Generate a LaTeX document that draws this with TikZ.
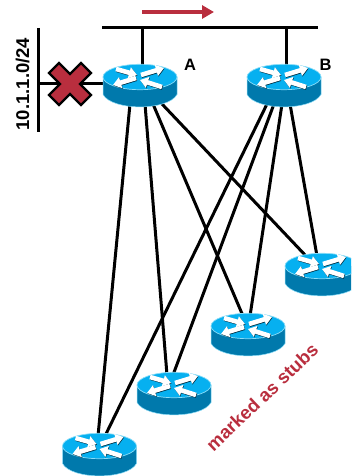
\documentclass[tikz,border=0pt]{standalone}
\usepackage{fontspec}
\setmainfont{Liberation Sans}
\usetikzlibrary{arrows.meta}
\definecolor{rtop}{HTML}{06B0F0}
\definecolor{rside}{HTML}{0079AC}
\definecolor{redge}{HTML}{8ADDF8}
\definecolor{redc}{HTML}{B92E3E}
\tikzset{
  x=1pt,y=-1pt,
  routerbox/.style={minimum width=74pt,minimum height=43pt,inner sep=0pt,outer sep=0pt},
  link/.style={line width=3pt,black},
  barline/.style={line width=3pt,black,line cap=butt},
  lbl/.style={font=\bfseries\fontsize{16.5}{17}\selectfont,inner sep=0pt},
  redlbl/.style={font=\bfseries\fontsize{18.5}{19}\selectfont,text=redc,inner sep=0pt},
  routerarrow/.style={line width=4.6pt,-{Triangle[length=8pt,width=11pt]}},
  router/.pic={
    \fill[rside,draw=redge,line width=.5pt] (-37,-8.5) -- (-37,9)
      .. controls (-28,25.5) and (28,25.5) .. (37,9) -- (37,-8.5) -- cycle;
    \fill[rtop,draw=redge,line width=.7pt] (0,-8.5) ellipse [x radius=37,y radius=12.7];
    \foreach \tx/\ty/\hx/\hy in {-24/-16.5/-3/-10.5, 1/-10.5/24/-17.5, -4/-7.5/-27/-0.5, 22/1.5/0/-5.5}{
      \draw[routerarrow,black!60!rside] (\tx+.5,\ty+.7) -- (\hx+.5,\hy+.7);
      \draw[routerarrow,white] (\tx,\ty) -- (\hx,\hy);
    }
  }
}
\begin{document}
\begin{tikzpicture}
\useasboundingbox (0,0) rectangle (351,476);
\clip (0,0) rectangle (351,476);
\node[routerbox] (a) at (140,85.5) {};
\node[routerbox] (b) at (284,85.5) {};
\node[routerbox] (s1) at (322,274.5) {};
\node[routerbox] (s2) at (248,334.5) {};
\node[routerbox] (s3) at (174,393.5) {};
\node[routerbox] (s4) at (99.5,454.5) {};
\coordinate (busL) at (102,28);
\coordinate (busR) at (318,28);
\coordinate (segT) at (38,28);
\coordinate (segB) at (38,132);
\coordinate (segM) at (38,84);
\coordinate (flowS) at (142,12);
\coordinate (flowE) at (214,12);
% connectors
\draw[barline] (busL) -- (busR);
\draw[link] ([xshift=2pt,yshift=-2pt]a.north) -- ([xshift=2pt]a.north |- busL);
\draw[link] ([xshift=2pt,yshift=-2pt]b.north) -- ([xshift=2pt]b.north |- busL);
\draw[barline] (segT) -- (segB);
\draw[link] (segM) -- (a.west |- segM);
\draw[link] ([xshift=-10pt,yshift=3pt]a.south) -- ([xshift=-1.5pt,yshift=-3pt]s4.north);
\draw[link] ([xshift=5pt,yshift=3pt]a.south) -- ([xshift=-7pt,yshift=-3pt]s3.north);
\draw[link] ([xshift=13pt,yshift=3pt]a.south) -- ([xshift=-5pt,yshift=-3pt]s2.north);
\draw[link] ([xshift=22pt,yshift=3pt]a.south) -- ([xshift=-16pt,yshift=-3pt]s1.north);
\draw[link] ([xshift=-17pt,yshift=3pt]b.south) -- ([xshift=5.5pt,yshift=-3pt]s4.north);
\draw[link] ([xshift=-10pt,yshift=3pt]b.south) -- ([xshift=-1pt,yshift=-3pt]s3.north);
\draw[link] ([xshift=-2pt,yshift=3pt]b.south) -- ([xshift=2pt,yshift=-3pt]s2.north);
\draw[link] ([xshift=6pt,yshift=3pt]b.south) -- ([xshift=-5pt,yshift=-3pt]s1.north);
% routers
\foreach \n in {a,b,s1,s2,s3,s4} { \pic at (\n) {router}; }
% cross
\filldraw[fill=redc,draw=black,line width=2.2pt,line join=miter,shift={(70,84)}]
  (21,11) -- (11,21) -- (0,10) -- (-11,21) -- (-21,11) -- (-10,0) -- (-21,-11) -- (-11,-21)
  -- (0,-10) -- (11,-21) -- (21,-11) -- (10,0) -- cycle;
% flow arrow
\draw[redc,line width=4.5pt,-{Triangle[length=12pt,width=13pt]}] (flowS) -- (flowE);
% labels
\node[lbl] (la) at (190,64.5) {A};
\node[lbl] (lb) at (325.5,64.5) {B};
\node[lbl,rotate=90,font=\bfseries\fontsize{18.5}{19}\selectfont] (net) at (22.5,84) {10.1.1.0/24};
\node[redlbl,rotate=43.5] (stubs) at (262,397) {marked as stubs};
\end{tikzpicture}
\end{document}
